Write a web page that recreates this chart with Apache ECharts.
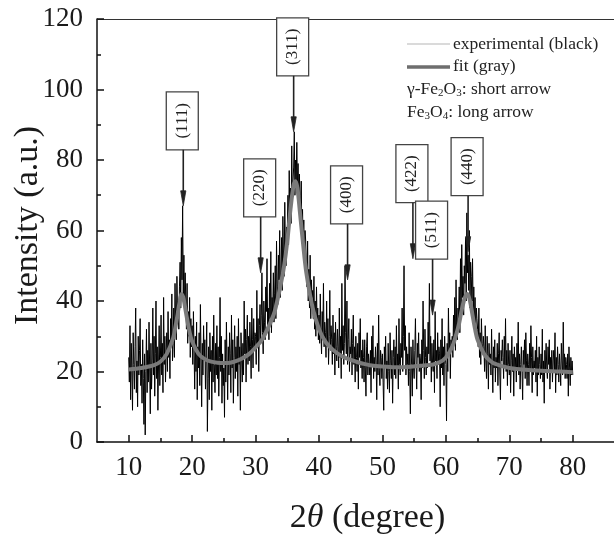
<!DOCTYPE html>
<html>
<head>
<meta charset="utf-8">
<script src="https://cdn.jsdelivr.net/npm/echarts@6/dist/echarts.min.js"></script>
<style>
html,body{margin:0;padding:0;background:#fff;}
#chart{width:614px;height:538px;}
</style>
</head>
<body>
<div id="chart"></div>
<script>
// ---------- data ----------
const expStart = 10;      // first 2θ of experimental scan
const expStep = 0.1;      // 2θ step of experimental scan
const expIntensity = [
24,17,33,12,28,20,9,31,22,15, 27,38,14,23,10,30,19,26,35,16,
22,11,29,18,5,25,2,20,32,14, 26,17,34,21,8,28,15,23,38,19,
30,13,25,40,18,27,9,22,33,16, 24,36,19,28,14,41,22,30,17,26,
31,20,37,24,29,18,35,27,42,23, 28,38,24,45,33,29,47,36,40,32,
44,51,38,58,46,67,42,53,37,48, 40,32,45,28,37,30,41,24,35,27,
33,22,37,26,15,30,20,34,12,27, 21,31,16,39,24,10,28,19,33,23,
29,15,24,34,3,18,27,12,31,20, 26,9,30,17,36,22,14,28,19,33,
18,27,13,24,41,20,30,11,25,16, 21,7,29,17,34,23,12,27,19,31,
25,14,36,21,29,11,24,33,18,27, 20,30,13,35,22,27,9,31,24,17,
28,19,40,25,32,17,29,36,22,30, 23,34,27,18,38,29,21,35,26,31,
30,22,43,27,35,20,33,39,28,36, 48,31,25,40,34,29,44,37,52,33,
38,29,45,35,54,31,41,36,48,34, 42,50,35,57,44,39,53,46,60,41,
48,58,43,64,52,47,68,55,50,61, 60,70,56,77,65,72,62,84,68,74,
78,88,70,80,74,85,72,79,68,76, 70,62,74,58,66,55,63,52,60,57,
50,44,57,40,49,38,53,35,46,41, 43,35,47,32,40,30,44,33,38,29,
36,28,42,31,25,37,30,45,27,34, 31,24,40,27,35,22,30,43,26,33,
29,22,36,25,31,19,34,27,23,32, 27,21,38,24,30,18,45,26,33,22,
28,50,31,25,40,22,29,35,20,27, 25,32,19,28,36,22,27,17,30,24,
20,28,15,31,24,35,21,26,18,29, 24,17,29,21,13,27,31,19,25,22,
19,26,14,30,22,33,18,24,20,27, 23,12,28,19,36,21,16,26,24,18,
25,17,9,27,21,30,18,23,15,28, 20,14,31,23,18,26,11,24,29,19,
27,18,33,21,25,15,35,22,19,28, 24,38,20,30,50,26,33,19,27,22,
25,16,31,20,8,27,22,13,29,21, 18,26,35,22,15,28,24,31,20,25,
23,12,29,21,40,26,18,32,24,19, 27,21,34,25,45,23,30,17,28,22,
20,29,14,37,23,26,18,31,22,27, 25,10,29,21,35,19,27,16,30,24,
22,6,28,20,38,25,31,18,29,26, 30,24,36,28,41,26,46,32,29,38,
35,44,31,52,38,56,41,47,36,50, 45,58,40,65,48,53,43,60,38,51,
47,40,52,36,44,33,41,30,38,35, 32,27,38,24,31,22,35,28,25,30,
27,20,33,23,18,30,25,15,28,22, 25,19,32,22,14,27,21,29,17,24,
21,28,16,25,31,19,12,26,23,29, 24,18,30,21,35,20,26,16,28,22,
19,26,14,23,30,20,25,13,27,21, 24,17,28,21,34,19,25,15,22,27,
20,12,26,22,29,18,31,23,16,25, 22,16,28,20,33,24,14,27,19,23,
21,26,17,30,13,24,19,27,22,18, 25,19,32,17,23,11,26,20,28,21,
18,27,22,29,15,24,20,26,17,23, 26,20,31,14,24,19,27,22,17,25,
21,16,28,23,19,34,20,25,18,24, 22,18,25,13,27,21,16,24,19,23,
19
];
const fitTwoTheta = [10,12,14,15,16,17,17.5,18,18.3,18.6,19,19.5,20,21,22,23,24,25,26,27,28,29,30,31,32,33,34,34.5,35,35.5,36,36.3,36.6,37,37.5,38,39,40,41,42,43,44,45,46,47,48,50,52,54,56,58,59,60,61,62,62.5,63,63.4,63.8,64.2,64.6,65,66,67,68,70,72,75,78,80];
const fitIntensity = [20.6,21.0,21.8,22.8,25.0,29.5,34,39.5,42,41,37,32,28.5,25,23.5,22.8,22.5,22.4,22.5,23,23.8,25,26.8,29,32.5,37,45,50,57,66,73,74,72,65,56,48,38,32,28.5,26.5,25,24,23.3,22.7,22.2,21.8,21.4,21.2,21.3,21.6,22,22.6,24,27,33,37.5,41,42,40,36,32,29,25,23,22,21,20.6,20.2,20,19.8];
const xTickLabels = [10,20,30,40,50,60,70,80];
const xMinorTicks = [15,25,35,45,55,65,75];
const peakLabels = ['(111)','(220)','(311)','(400)','(422)','(511)','(440)'];
const peakTwoTheta = [18.6,30.8,36.0,44.5,54.8,57.9,63.5];
const peakTipIntensity = [67,48,88,46,52,36,54];

// ---------- build ----------
const expData = expIntensity.map((v,i)=>[+(expStart+i*expStep).toFixed(1), v]);
const fitData = fitTwoTheta.map((x,i)=>[x, fitIntensity[i]]);

const FONT = '"Liberation Serif","Times New Roman",serif';
const chart = echarts.init(document.getElementById('chart'), null, {renderer:'canvas'});

const xCommon = {type:'value', min:5, max:86.5, gridIndex:0, splitLine:{show:false}};
chart.setOption({
  animation:false,
  backgroundColor:'#fff',
  grid:{left:97, right:0, top:19, bottom:96, containLabel:false, outerBoundsMode:'none'},
  xAxis:[
    Object.assign({}, xCommon, {
      position:'bottom',
      axisLine:{onZero:false, lineStyle:{color:'#111', width:1.5}},
      axisTick:{inside:true, length:7, lineStyle:{color:'#111', width:1.5}, customValues:xTickLabels},
      axisLabel:{customValues:xTickLabels, fontFamily:FONT, fontSize:27, color:'#1a1a1a', margin:12},
      name:'2{i|θ} (degree)',
      nameLocation:'middle', nameGap:59, nameMoveOverlap:false,
      nameTextStyle:{fontFamily:FONT, fontSize:34, color:'#1a1a1a', padding:[0,0,0,24],
        rich:{i:{fontFamily:FONT, fontStyle:'italic', fontSize:34, color:'#1a1a1a'}}}
    }),
    Object.assign({}, xCommon, {
      position:'bottom',
      axisLine:{show:false, onZero:false},
      axisTick:{inside:true, length:4, lineStyle:{color:'#111', width:1.5}, customValues:xMinorTicks},
      axisLabel:{show:false}
    }),
    Object.assign({}, xCommon, {
      position:'top',
      axisLine:{onZero:false, lineStyle:{color:'#333', width:1.2}},
      axisTick:{show:false},
      axisLabel:{show:false}
    })
  ],
  yAxis:{
    type:'value', min:0, max:120, interval:20,
    axisLine:{show:true, lineStyle:{color:'#111', width:1.5}},
    axisTick:{show:true, inside:true, length:7, lineStyle:{color:'#111', width:1.5}},
    minorTick:{show:true, splitNumber:2, length:4, lineStyle:{color:'#111', width:1.5}},
    splitLine:{show:false},
    axisLabel:{fontFamily:FONT, fontSize:27, color:'#1a1a1a', margin:14},
    name:'Intensity (a.u.)',
    nameLocation:'middle', nameGap:52, nameMoveOverlap:false,
    nameTextStyle:{fontFamily:FONT, fontSize:34, color:'#1a1a1a', padding:[0,0,0,10]}
  },
  series:[
    {type:'line', name:'experimental (black)', data:expData, xAxisIndex:0, showSymbol:false, symbol:'none',
     lineStyle:{color:'#000', width:1}, z:2},
    {type:'line', name:'fit (gray)', data:fitData, xAxisIndex:0, showSymbol:false, symbol:'none', smooth:0.3,
     lineStyle:{color:'#7a7a7a', width:4}, z:3}
  ]
});

// ---------- annotations & legend ----------
const ARROW_LEN = 56, BOX_W = 32, BOX_H = 58;
const graphics = [];
peakLabels.forEach((lab,i)=>{
  const p = chart.convertToPixel({xAxisIndex:0, yAxisIndex:0}, [peakTwoTheta[i], peakTipIntensity[i]]);
  const x = p[0], tip = p[1];
  const boxBottom = tip - ARROW_LEN;
  const cx = x - 1;
  graphics.push({type:'rect', z:10, shape:{x:cx-BOX_W/2, y:boxBottom-BOX_H, width:BOX_W, height:BOX_H},
    style:{fill:'#fff', stroke:'#444', lineWidth:1.3}});
  graphics.push({type:'text', z:11, x:cx, y:boxBottom-BOX_H/2, rotation:Math.PI/2,
    style:{text:lab, font:'17px '+FONT, fill:'#222', align:'center', verticalAlign:'middle',
           textAlign:'center', textVerticalAlign:'middle'}});
  graphics.push({type:'line', z:10, shape:{x1:x, y1:boxBottom, x2:x, y2:tip-6},
    style:{stroke:'#222', lineWidth:1.6}});
  graphics.push({type:'polygon', z:10, shape:{points:[[x-2.6,tip-15],[x+2.6,tip-15],[x,tip]]},
    style:{fill:'#222', stroke:'#222', lineWidth:0.8}});
});
// legend
const lgX = 407;
graphics.push({type:'line', z:10, shape:{x1:lgX, y1:44, x2:lgX+43, y2:44}, style:{stroke:'#b5b5b5', lineWidth:1}});
graphics.push({type:'text', z:10, x:lgX+46, y:44, style:{text:'experimental (black)', font:'17.5px '+FONT, fill:'#222',
  align:'left', verticalAlign:'middle', textAlign:'left', textVerticalAlign:'middle'}});
graphics.push({type:'line', z:10, shape:{x1:lgX, y1:67, x2:lgX+43, y2:67}, style:{stroke:'#6e6e6e', lineWidth:3.5}});
graphics.push({type:'text', z:10, x:lgX+46, y:66, style:{text:'fit (gray)', font:'17.5px '+FONT, fill:'#222',
  align:'left', verticalAlign:'middle', textAlign:'left', textVerticalAlign:'middle'}});
const subRich = {s:{fontFamily:FONT, fontSize:11, fill:'#222', verticalAlign:'bottom', lineHeight:20}};
graphics.push({type:'text', z:10, x:lgX, y:89, style:{text:'γ-Fe{s|2}O{s|3}: short arrow', font:'17.5px '+FONT, fill:'#222',
  lineHeight:20, rich:subRich, align:'left', verticalAlign:'middle', textAlign:'left', textVerticalAlign:'middle'}});
graphics.push({type:'text', z:10, x:lgX, y:112, style:{text:'Fe{s|3}O{s|4}: long arrow', font:'17.5px '+FONT, fill:'#222',
  lineHeight:20, rich:subRich, align:'left', verticalAlign:'middle', textAlign:'left', textVerticalAlign:'middle'}});
chart.setOption({graphic:{elements:graphics}});
</script>
</body>
</html>
